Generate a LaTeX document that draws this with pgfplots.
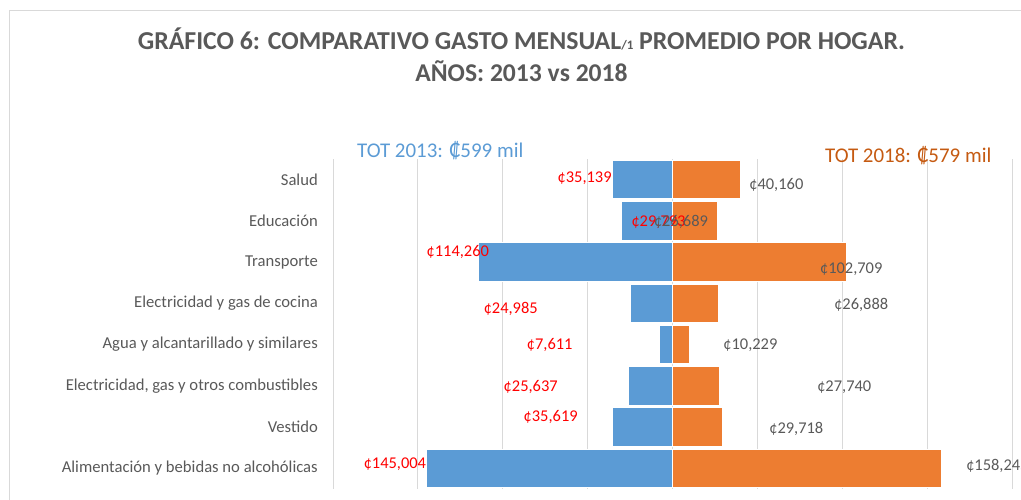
\documentclass[border=0pt]{standalone}
\usepackage{fontspec}
\setmainfont{Carlito}
\usepackage{pgfplots}
\pgfplotsset{compat=1.18}
\definecolor{cblue}{HTML}{5B9BD5}
\definecolor{corange}{HTML}{ED7D31}
\definecolor{torange}{HTML}{C55A11}
\definecolor{textgray}{HTML}{595959}
\definecolor{gridgray}{HTML}{D9D9D9}
\begin{document}
\begin{tikzpicture}[x=1bp,y=1bp]
\path[use as bounding box, clip] (0,0) rectangle (1021,500);
\draw[gridgray, line width=1bp] (9.5,-20) rectangle (1040,489);
\node[anchor=base, inner sep=0pt, font=\bfseries\fontsize{25.9}{30}\selectfont, text=textgray] at (521.5,450) {GRÁFICO 6: COMPARATIVO GASTO MENSUAL{\fontsize{13}{13}\selectfont/1} PROMEDIO POR HOGAR.};
\node[anchor=base, inner sep=0pt, font=\bfseries\fontsize{25.7}{30}\selectfont, text=textgray] at (521.5,418) {AÑOS: 2013 vs 2018};
\begin{axis}[at={(333bp,11bp)}, anchor=south west, scale only axis,
  width=679bp, height=330bp,
  xmin=-200000, xmax=200000, ymin=-0.5, ymax=7.5,
  xbar, bar width=38.5bp, bar shift=0pt,
  axis line style={draw=none},
  xtick={-200000,-150000,-100000,-50000,0,50000,100000,150000,200000},
  xticklabels={}, scaled x ticks=false,
  xmajorgrids, grid style={gridgray, line width=1bp},
  major tick length=0pt,
  ytick={0,1,2,3,4,5,6,7},
  yticklabels={{Alimentación y bebidas no alcohólicas},{Vestido\hspace{4bp}},{Electricidad, gas y otros combustibles},{Agua y alcantarillado y similares},{Electricidad y gas de cocina},{Transporte},{Educación},{Salud}},
  yticklabel style={font=\fontsize{16.7}{16.7}\selectfont, text=textgray, inner sep=0pt, anchor=east, xshift=-15bp},
  clip=false]
\addplot[fill=cblue, draw=white, line width=1bp] coordinates {(-145004,0) (-35619,1) (-25637,2) (-7611,3) (-24985,4) (-114260,5) (-29793,6) (-35139,7)};
\addplot[fill=corange, draw=white, line width=1bp] coordinates {(158245,0) (29718,1) (27740,2) (10229,3) (26888,4) (102709,5) (26689,6) (40160,7)};
\begin{scope}[every node/.style={anchor=base, inner sep=0pt, font=\fontsize{16.5}{16.5}\selectfont}]
\node[text=red] at (axis cs:-51760,6.94) {¢35,139};
\node[text=red] at (axis cs:-8240,5.875) {¢29,793};
\node[text=red] at (axis cs:-126470,5.148) {¢114,260};
\node[text=red] at (axis cs:-95290,3.76) {¢24,985};
\node[text=red] at (axis cs:-72350,2.89) {¢7,611};
\node[text=red] at (axis cs:-83530,1.875) {¢25,637};
\node[text=red] at (axis cs:-71760,1.148) {¢35,619};
\node[text=red] at (axis cs:-163530,0.008) {¢145,004};
\node[text=textgray] at (axis cs:61180,6.77) {¢40,160};
\node[text=textgray] at (axis cs:5000,5.875) {¢26,689};
\node[text=textgray] at (axis cs:105290,4.736) {¢102,709};
\node[text=textgray] at (axis cs:111180,3.86) {¢26,888};
\node[text=textgray] at (axis cs:45880,2.87) {¢10,229};
\node[text=textgray] at (axis cs:101180,1.875) {¢27,740};
\node[text=textgray] at (axis cs:72940,0.857) {¢29,718};
\node[text=textgray, anchor=base west] at (axis cs:172940,-0.06) {¢158,245};
\end{scope}
\end{axis}
\node[anchor=base west, inner sep=0pt, font=\fontsize{21}{21}\selectfont, text=cblue] at (357,342) {TOT 2013: ₡599 mil};
\node[anchor=base west, inner sep=0pt, font=\fontsize{21}{21}\selectfont, text=torange] at (825,337) {TOT 2018: ₡579 mil};
\end{tikzpicture}
\end{document}
